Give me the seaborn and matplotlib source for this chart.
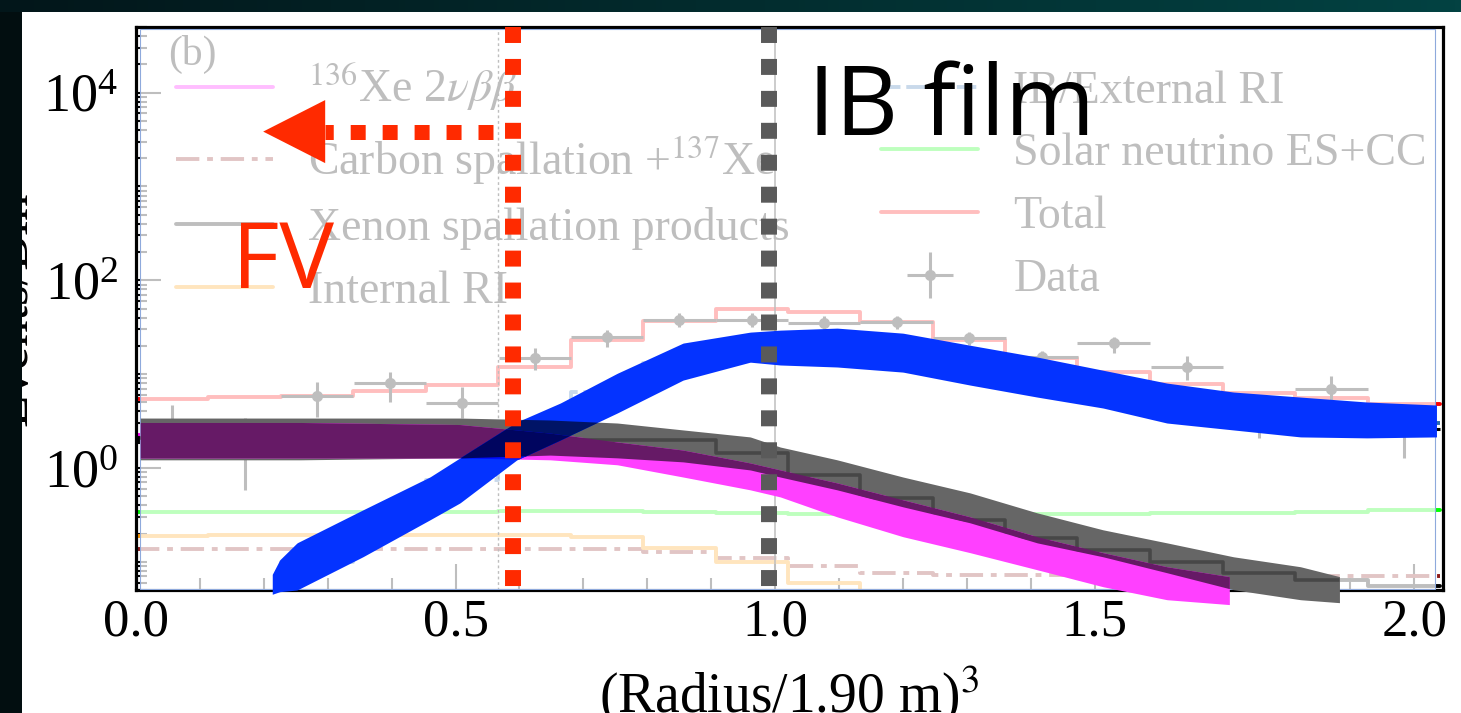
import numpy as np
import pandas as pd
import matplotlib
matplotlib.use("Agg")
import matplotlib.pyplot as plt
import seaborn as sns
from matplotlib.patches import Rectangle
from matplotlib.ticker import LogLocator, MultipleLocator, FormatStrFormatter, NullFormatter

sns.set_theme(style="white")
plt.rcParams["font.family"] = ["Liberation Serif", "DejaVu Serif"]
plt.rcParams["mathtext.fontset"] = "stix"

# ---------------- data ----------------
bin_edges = [0.000, 0.113, 0.227, 0.340, 0.453, 0.567, 0.680, 0.793, 0.907, 1.020,
             1.133, 1.247, 1.360, 1.473, 1.587, 1.700, 1.813, 1.927, 2.040]
bin_centers = [0.057, 0.170, 0.283, 0.397, 0.510, 0.624, 0.737, 0.850, 0.964, 1.077,
               1.190, 1.304, 1.417, 1.530, 1.644, 1.757, 1.870, 1.984]

total = [5.4, 5.7, 5.85, 6.6, 7.6, 11.9, 23.0, 36.6, 49.0, 45.6,
         35.8, 23.0, 14.8, 10.5, 7.8, 6.3, 5.55, 4.8]
xenon_spall = [2.1, 2.1, 2.1, 2.1, 2.1, 2.05, 2.0, 1.98, 1.44, 0.84,
               0.48, 0.28, 0.18, 0.134, 0.10, 0.076, 0.064, 0.055]
xe136 = [2.24, 2.24, 2.2, 2.2, 2.15, 2.0, 1.75, 1.35, 0.95, 0.62,
         0.40, 0.25, 0.16, 0.105, 0.07, 0.045, 0.03, 0.02]
ib_external = [0.02, 0.04, 0.10, 0.30, 0.75, 2.6, 6.5, 13.0, 19.0, 19.0,
               17.0, 12.5, 9.3, 6.8, 4.9, 4.0, 3.4, 3.0]
internal_ri = [0.19, 0.195, 0.195, 0.195, 0.195, 0.194, 0.185, 0.141, 0.10, 0.06,
               0.004, 0.004, 0.004, 0.004, 0.004, 0.004, 0.004, 0.004]
solar = [0.34, 0.34, 0.34, 0.34, 0.34, 0.345, 0.345, 0.34, 0.33, 0.32,
         0.31, 0.32, 0.32, 0.325, 0.33, 0.33, 0.34, 0.355]
carbon = [0.137, 0.137, 0.137, 0.137, 0.137, 0.137, 0.137, 0.128, 0.11, 0.091,
          0.0764, 0.072, 0.072, 0.071, 0.071, 0.071, 0.071, 0.071]

data_y = [1.9, 1.67, 5.8, 8.0, 4.9, 14.8, 24.7, 37.5, 37.5, 35.0,
          35.8, 24.0, 15.2, 21.4, 11.8, 4.0, 6.9, 2.6]
data_hi = [4.7, 3.4, 8.2, 10.5, 7.3, 18.9, 29.4, 44.5, 44.5, 41.5,
           42.0, 28.0, 17.5, 24.8, 15.5, 6.0, 9.5, 4.2]
data_lo = [1.25, 0.58, 3.5, 5.0, 3.4, 11.0, 19.4, 31.6, 31.6, 29.5,
           30.0, 20.4, 12.4, 16.7, 8.6, 2.1, 4.7, 1.28]

# hand-drawn highlight bands (x, lower, upper)
blue_x = [0.213, 0.225, 0.252, 0.355, 0.460, 0.507, 0.596, 0.664, 0.753, 0.856, 0.961,
          1.008, 1.097, 1.200, 1.305, 1.410, 1.513, 1.613, 1.717, 1.822, 1.926, 2.036]
blue_hi = [0.073, 0.105, 0.159, 0.357, 0.802, 1.28, 3.09, 4.92, 10.2, 21.4, 28.0,
           29.4, 30.9, 27.3, 20.3, 15.2, 11.0, 8.02, 6.44, 5.69, 5.04, 4.68]
blue_lo = [0.045, 0.048, 0.050, 0.113, 0.280, 0.424, 1.22, 1.99, 3.85, 8.63, 13.4,
           12.5, 11.9, 10.5, 7.64, 5.69, 4.35, 3.01, 2.54, 2.14, 2.09, 2.14]
gray_x = [0.006, 0.257, 0.507, 0.648, 0.753, 0.856, 0.961, 1.008, 1.097, 1.200,
          1.305, 1.410, 1.513, 1.613, 1.717, 1.822, 1.884]
gray_hi = [3.40, 3.40, 3.40, 3.24, 3.01, 2.54, 2.14, 1.67, 1.22, 0.80,
           0.542, 0.332, 0.219, 0.159, 0.113, 0.0885, 0.0692]
gray_lo = [1.22, 1.22, 1.28, 1.37, 1.28, 1.16, 0.952, 0.80, 0.584, 0.385,
           0.260, 0.159, 0.113, 0.0764, 0.0504, 0.0394, 0.0366]
magenta_x = [0.006, 0.257, 0.507, 0.648, 0.753, 0.856, 0.961, 1.008, 1.097, 1.200,
             1.305, 1.410, 1.513, 1.613, 1.712]
magenta_hi = [3.05, 3.05, 2.9, 2.35, 1.89, 1.55, 1.13, 0.952, 0.692, 0.457,
              0.301, 0.185, 0.125, 0.0885, 0.0692]
magenta_lo = [1.28, 1.28, 1.28, 1.22, 1.08, 0.80, 0.584, 0.491, 0.301, 0.185,
              0.125, 0.0822, 0.0542, 0.0394, 0.0349]

legend_labels = [r"$^{136}$Xe 2$\nu\beta\beta$", r"Carbon spallation +$^{137}$Xe",
                 "Xenon spallation products", "Internal RI",
                 "IB/External RI", "Solar neutrino ES+CC", "Total", "Data"]

# annotation positions
FV_LINE_X = 0.590
IB_LINE_X = 0.991
ARROW_Y = 3840
ARROW_TIP_X = 0.199
ARROW_HEAD_X = 0.296
ARROW_TAIL_X = 0.559

RED = "#ff2a00"
DARKGRAY = "#5a5a5a"

# ---------------- figure ----------------
W, H = 1461, 713
fig = plt.figure(figsize=(W / 100, H / 100), dpi=100)
fig.patch.set_facecolor("white")
ax = fig.add_axes([136 / W, 123 / H, 1307 / W, 563 / H])
ax.set_facecolor("white")
ax.set_yscale("log")
ax.set_xlim(0, 2.045)
ax.set_ylim(0.05, 5e4)


def step(values, color, lw=2.8, zorder=2, dashes=None):
    df = pd.DataFrame({"x": bin_edges, "y": list(values) + [values[-1]]})
    sns.lineplot(data=df, x="x", y="y", ax=ax, drawstyle="steps-post",
                 estimator=None, sort=False, color=color, linewidth=lw, zorder=zorder)
    line = ax.lines[-1]
    if dashes is not None:
        line.set_dashes(dashes)
    return line


h_xe = step(xe136, "#ff00ff")
h_carbon = step(carbon, "#8c1a1a", dashes=(6, 2, 1.5, 2))
h_xenon = step(xenon_spall, "#000000")
h_internal = step(internal_ri, "#ff9900")
h_ib = step(ib_external, "#2a6cb0", dashes=(5, 1.5))
h_solar = step(solar, "#00ff00")
h_total = step(total, "#ff0000")

edges = np.array(bin_edges)
half_w = (edges[1:] - edges[:-1]) / 2
dy = np.array(data_y)
h_data = ax.errorbar(bin_centers, dy, xerr=half_w,
                     yerr=[dy - np.array(data_lo), np.array(data_hi) - dy],
                     fmt="o", color="black", ms=7, elinewidth=2.2, capsize=0, zorder=2.2)

ax.axvline(0.567, color="black", lw=1.0, ls=(0, (2, 2)), zorder=2)
ax.axvline(1.0, color="black", lw=1.1, zorder=2)

leg = ax.legend([h_xe, h_carbon, h_xenon, h_internal, h_ib, h_solar, h_total, h_data],
                legend_labels, ncol=2, loc="upper left", bbox_to_anchor=(0.0306, 0.938),
                frameon=False, fontsize=33, handlelength=2.12, handletextpad=0.76,
                columnspacing=2.0, labelspacing=0.44, borderpad=0, borderaxespad=0,
                labelcolor="black")
leg.set_zorder(3)
ax.text(0.0245, 0.952, "(b)", transform=ax.transAxes, fontsize=30, va="center",
        ha="left", color="black", zorder=3)

# ticks and frame
ax.yaxis.set_major_locator(LogLocator(base=100, numticks=10))
ax.yaxis.set_minor_locator(LogLocator(base=10, subs=np.arange(1, 10), numticks=30))
ax.yaxis.set_minor_formatter(NullFormatter())
ax.xaxis.set_major_locator(MultipleLocator(0.5))
ax.xaxis.set_minor_locator(MultipleLocator(0.1))
ax.xaxis.set_major_formatter(FormatStrFormatter("%.1f"))
ax.tick_params(axis="y", which="major", direction="in", length=18, width=1.5,
               color="black", left=True, right=False, labelsize=39, pad=13, labelcolor="black")
ax.tick_params(axis="y", which="minor", direction="in", length=8, width=1.5,
               color="black", left=True, right=False)
ax.tick_params(axis="x", which="major", direction="in", length=19, width=1.5,
               color="black", bottom=True, top=False, labelsize=38, pad=6, labelcolor="black")
ax.tick_params(axis="x", which="minor", direction="in", length=8.5, width=1.5,
               color="black", bottom=True, top=False)
for s in ax.spines.values():
    s.set_visible(True)
    s.set_color("black")
    s.set_linewidth(2.3)
    s.set_zorder(2.5)

ax.set_xlabel(r"(Radius/1.90 m)$^3$", fontsize=40, color="black")
ax.xaxis.set_label_coords(0.5, -0.131)
ax.set_ylabel("Events/Bin", fontsize=38, color="black")
ax.yaxis.set_label_coords(-0.0755, 0.5)

# fading veil of the original plot
fx0, fx1 = 4 / 1307, 1299 / 1307
fy0, fy1 = 1 / 563, 561 / 563
ax.add_patch(Rectangle((fx0, fy0), fx1 - fx0, fy1 - fy0, transform=ax.transAxes,
                       facecolor="white", alpha=0.75, edgecolor="none", zorder=3.5))
ax.add_patch(Rectangle((fx0, fy0), fx1 - fx0, fy1 - fy0, transform=ax.transAxes,
                       facecolor="none", edgecolor="#8ea9dc", lw=0.8, zorder=3.6))

# ---------------- highlight bands ----------------
xs = np.linspace(0.0, 2.045, 1200)


def band(bx, blo, bhi):
    valid = (xs >= bx[0]) & (xs <= bx[-1])
    lo = 10 ** np.interp(xs, bx, np.log10(blo))
    hi = 10 ** np.interp(xs, bx, np.log10(bhi))
    return valid, lo, hi


def fill(valid, lo, hi, color, z):
    pc = ax.fill_between(xs, lo, hi, where=valid & (lo < hi), color=color,
                         linewidth=0, zorder=z)
    pc.set_clip_on(False)
    return pc


gv, gl, gh = band(gray_x, gray_lo, gray_hi)
mv, ml, mh = band(magenta_x, magenta_lo, magenta_hi)
bv, bl, bh = band(blue_x, blue_lo, blue_hi)

gray_pc = fill(gv, gl, gh, "#666666", 4.0)
fill(mv, ml, mh, "#ff40ff", 4.01)
fill(gv & mv, np.maximum(gl, ml), np.minimum(gh, mh), "#661a66", 4.02)
fill(bv, bl, bh, "#0433ff", 4.03)
fill(bv & gv, np.maximum(bl, gl), np.minimum(bh, gh), "#001466", 4.04)
fill(bv & mv, np.maximum(bl, ml), np.minimum(bh, mh), "#000dff", 4.05)
fill(bv & gv & mv, np.maximum.reduce([bl, gl, ml]), np.minimum.reduce([bh, gh, mh]),
     "#00055f", 4.06)

# original xenon line seen through the gray band only
dark_xenon = step(xenon_spall, "#474747", lw=2.6, zorder=4.015)
dark_xenon.set_clip_path(gray_pc.get_paths()[0], ax.transData)

# ---------------- annotations ----------------
ax.axvline(FV_LINE_X, ymin=1, ymax=0, color=RED, lw=11.5, dashes=(1, 1),
           solid_capstyle="butt", dash_capstyle="butt", zorder=5)
ax.axvline(IB_LINE_X, ymin=1, ymax=0, color=DARKGRAY, lw=11.5, dashes=(1, 1),
           solid_capstyle="butt", dash_capstyle="butt", zorder=5)
ax.plot([ARROW_TAIL_X, ARROW_HEAD_X], [ARROW_Y, ARROW_Y], color=RED, lw=10.8,
        dashes=(1, 1.13), dash_capstyle="butt", zorder=5.1)
head = 10 ** 0.336
ax.fill([ARROW_TIP_X, ARROW_HEAD_X, ARROW_HEAD_X],
        [ARROW_Y, ARROW_Y * head, ARROW_Y / head], color=RED, lw=0, zorder=5.2)

ax.text(0.150, 83, "FV", fontsize=66, color=RED, family=["Open Sans", "DejaVu Sans"],
        ha="left", va="baseline", zorder=6)
ax.text(1.052, 3565, "IB film", fontsize=70, color="black",
        family=["Open Sans", "DejaVu Sans"], ha="left", va="baseline", zorder=6)

# ---------------- dark page border ----------------
fig.add_artist(Rectangle((0, 0), 22 / W, 1, transform=fig.transFigure,
                         facecolor="#020e10", edgecolor="none", zorder=20))
tax = fig.add_axes([0, 1 - 12 / H, 1, 12 / H], zorder=21)
c0 = np.array([2, 22, 26]) / 255
c1 = np.array([3, 66, 66]) / 255
t = np.linspace(0, 1, 256)[None, :, None]
tax.imshow(c0 + (c1 - c0) * t, aspect="auto", extent=(0, 1, 0, 1))
tax.set_axis_off()

fig.savefig("out.png", dpi=100)
